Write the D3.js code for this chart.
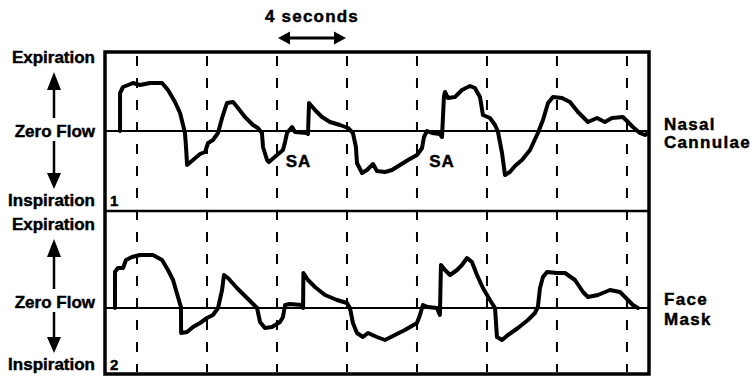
<!DOCTYPE html>
<html>
<head>
<meta charset="utf-8">
<script src="https://cdn.jsdelivr.net/npm/d3@7"></script>
<style>
  body { margin: 0; background: #fff; }
  text { font-family: "Liberation Sans", Arial, sans-serif; font-weight: bold; fill: #000; stroke: #000; stroke-width: 0.45px; }
</style>
</head>
<body>
<div id="wrapper"></div>
<script>
// Flow traces, [seconds, flow] (flow in arbitrary units, + = expiration)
const nasalFlow = [[-0.97,0],[-0.97,3.8],[-0.8,4.4],[-0.51,4.6],[-0.23,4.8],[0.17,4.6],[0.74,4.8],[1.43,4.8],[1.77,4.1],[2.17,2.9],[2.46,1.8],[2.63,0.6],[2.74,-0.2],[2.8,-1.6],[2.86,-3.4],[3.2,-2.9],[3.6,-2.3],[3.89,-2.1],[4.06,-1.2],[4.34,-0.9],[4.63,-0.2],[4.86,1.3],[5.14,2.8],[5.49,2.9],[5.77,2.3],[6.17,1.4],[6.63,0.6],[6.91,0.3],[7.14,-0.2],[7.2,-1.6],[7.43,-2.9],[7.54,-3.1],[8.0,-2.4],[8.34,-1.9],[8.46,-1.1],[8.57,-0.2],[8.86,0.4],[9.03,-0.1],[9.71,-0.2],[9.77,-0.3],[9.83,2.8],[10.17,2.1],[10.57,1.4],[11.03,0.9],[11.6,0.6],[12.06,0.3],[12.34,-0.2],[12.51,-1.6],[12.57,-3.2],[12.86,-4.2],[13.14,-3.9],[13.49,-3.3],[13.71,-4.0],[14.17,-4.1],[14.57,-3.9],[15.03,-3.4],[15.49,-2.9],[16.0,-2.4],[16.29,-1.7],[16.4,-0.6],[16.57,0],[16.86,-0.2],[17.31,-0.3],[17.43,-0.6],[17.54,3.4],[17.6,3.9],[17.77,3.3],[18.17,3.4],[18.57,4.1],[19.03,4.5],[19.31,4.3],[19.6,3.4],[19.77,1.6],[20.17,1.3],[20.46,0.6],[20.63,-0.1],[20.86,-2.2],[21.03,-4.4],[21.31,-4.1],[21.6,-3.5],[22.0,-2.9],[22.46,-1.9],[22.91,-0.2],[23.2,1.1],[23.49,2.8],[23.77,3.4],[24.29,3.3],[24.74,2.9],[25.2,1.9],[25.77,0.9],[26.29,1.3],[26.74,0.9],[27.14,1.3],[27.77,1.4],[28.06,0.9],[28.34,0.4],[28.74,-0.2],[29.03,-0.4],[29.2,-0.2]];

const maskFlow = [[-1.26,0],[-1.26,3.6],[-1.09,4.0],[-0.8,4.0],[-0.63,4.8],[-0.29,5.1],[0.17,5.3],[0.91,5.3],[1.43,4.8],[1.77,3.8],[2.06,2.8],[2.34,1.1],[2.51,0.1],[2.52,-2.5],[2.86,-2.4],[3.2,-1.9],[3.6,-1.5],[4.0,-1.0],[4.34,-0.7],[4.63,0],[4.86,1.8],[4.97,3.3],[5.2,3.0],[5.71,2.0],[6.29,1.0],[6.86,0],[7.03,-1.4],[7.31,-2.0],[7.71,-1.9],[8.17,-1.4],[8.34,-0.9],[8.46,0.3],[8.74,0.4],[9.43,0.3],[9.49,0],[9.51,3.5],[9.77,2.8],[10.17,2.1],[10.74,1.3],[11.43,0.8],[12.0,0.5],[12.17,0],[12.34,-1.5],[12.57,-2.5],[12.91,-2.9],[13.2,-2.5],[13.71,-2.9],[14.17,-3.2],[14.74,-2.7],[15.31,-2.2],[16.0,-1.5],[16.17,-0.7],[16.34,0.3],[16.63,0.1],[17.14,0],[17.31,-0.7],[17.37,4.3],[17.6,3.8],[17.89,3.3],[18.29,3.8],[18.57,4.3],[18.86,5.0],[19.14,4.6],[19.43,3.3],[19.77,2.0],[20.17,0.8],[20.46,0],[20.57,-2.9],[20.86,-3.2],[21.2,-2.7],[21.77,-2.0],[22.34,-1.2],[22.74,-0.5],[22.91,0.1],[23.03,2.0],[23.2,3.1],[23.43,3.6],[24.0,3.5],[24.46,3.5],[25.03,2.8],[25.49,1.6],[25.77,1.1],[26.34,1.3],[27.03,1.8],[27.6,1.6],[28.06,0.8],[28.34,0.3],[28.63,0]];

// Time gridlines every 4 seconds
const gridTimes = [0,4,8,12,16,20,24,28];
// Scale bar: 4 seconds between these times
const scaleBar = [8, 12];
// Sleep apnea marks [time, panel]
const saMarks = [[8.5, "nasal"], [16.7, "nasal"]];

const leftLabels = ["Expiration", "Zero Flow", "Inspiration"];
const panelNames = [["Nasal", "Cannulae"], ["Face", "Mask"]];
const panelNumbers = ["1", "2"];

const W = 755, H = 379;
const svg = d3.select("#wrapper").append("svg")
  .attr("width", W).attr("height", H);

// Box geometry
const boxL = 105, boxR = 649, boxT = 52, boxM = 211, boxB = 374;

const x = d3.scaleLinear().domain([-1.83, 29.26]).range([boxL, boxR]);
const yNasal = d3.scaleLinear().domain([-8, 7.9]).range([boxM, boxT]);
const yMask = d3.scaleLinear().domain([-6.6, 9.7]).range([boxB, boxM]);

// Dashed time lines through both panels
svg.append("g")
  .selectAll("line")
  .data(gridTimes)
  .enter()
  .append("line")
    .attr("x1", d => x(d)).attr("x2", d => x(d))
    .attr("y1", boxT + 4).attr("y2", boxB - 2)
    .attr("stroke", "#000")
    .attr("stroke-width", 2)
    .attr("stroke-dasharray", "10,12");

// Zero flow lines
[[yNasal, 0], [yMask, 0]].forEach(([y, v]) => {
  svg.append("line")
    .attr("x1", boxL).attr("x2", boxR)
    .attr("y1", y(v)).attr("y2", y(v))
    .attr("stroke", "#000").attr("stroke-width", 2);
});

// Divider between panels
svg.append("line")
  .attr("x1", boxL).attr("x2", boxR)
  .attr("y1", boxM).attr("y2", boxM)
  .attr("stroke", "#000").attr("stroke-width", 2.5);

// Outer box
svg.append("rect")
  .attr("x", boxL).attr("y", boxT)
  .attr("width", boxR - boxL).attr("height", boxB - boxT)
  .attr("fill", "none").attr("stroke", "#000").attr("stroke-width", 3.5);

// Flow traces
const drawTrace = (data, y) => {
  const line = d3.line().x(d => x(d[0])).y(d => y(d[1]));
  svg.append("path")
    .datum(data)
    .attr("d", line)
    .attr("fill", "none")
    .attr("stroke", "#000")
    .attr("stroke-width", 4)
    .attr("stroke-linejoin", "round")
    .attr("stroke-linecap", "round");
};
drawTrace(nasalFlow, yNasal);
drawTrace(maskFlow, yMask);

// Arrow: shaft from (x1,y1) to head tip at (x2,y2)
const drawArrow = (x1, y1, x2, y2, headLen, headHalf, shaftW) => {
  const len = Math.hypot(x2 - x1, y2 - y1);
  const ux = (x2 - x1) / len, uy = (y2 - y1) / len;
  const bx = x2 - ux * headLen, by = y2 - uy * headLen;
  svg.append("line")
    .attr("x1", x1).attr("y1", y1).attr("x2", bx).attr("y2", by)
    .attr("stroke", "#000").attr("stroke-width", shaftW);
  const p = d3.path();
  p.moveTo(x2, y2);
  p.lineTo(bx - uy * headHalf, by + ux * headHalf);
  p.lineTo(bx + uy * headHalf, by - ux * headHalf);
  p.closePath();
  svg.append("path").attr("d", p.toString()).attr("fill", "#000");
};

// 4 seconds scale bar
const sbMid = (x(scaleBar[0]) + x(scaleBar[1])) / 2;
drawArrow(sbMid, 38, x(scaleBar[0]) + 1, 38, 12, 6.5, 3);
drawArrow(sbMid, 38, x(scaleBar[1]) - 1, 38, 12, 6.5, 3);
svg.append("text")
  .attr("x", sbMid).attr("y", 22)
  .attr("text-anchor", "middle")
  .style("font-size", "17px")
  .style("letter-spacing", "1.2px")
  .text("4 seconds");

// Left labels and arrows for each panel
[[yNasal, 63, 137, 206], [yMask, 230, 308, 370]].forEach(([y, yExp, yZero, yInsp], i) => {
  const ys = [yExp, yZero, yInsp];
  svg.append("g")
    .selectAll("text")
    .data(leftLabels)
    .enter()
    .append("text")
      .attr("x", 95)
      .attr("y", (d, j) => ys[j])
      .attr("text-anchor", "end")
      .style("font-size", "17px")
      .text(d => d);

  // Up arrow to Expiration, down arrow to Inspiration
  drawArrow(54, yZero - 19, 54, yExp + 9, 18, 7, 2.5);
  drawArrow(54, yZero + 4, 54, yInsp - 17, 16, 7, 2.5);

  // Panel number
  svg.append("text")
    .attr("x", 110).attr("y", yInsp)
    .style("font-size", "15px")
    .text(panelNumbers[i]);

  // Right-side panel name
  svg.append("g")
    .selectAll("text")
    .data(panelNames[i])
    .enter()
    .append("text")
      .attr("x", 664)
      .attr("y", (d, j) => (i == 0 ? 130 : 305) + j * (i == 0 ? 18 : 20))
      .style("font-size", "17px")
      .style("letter-spacing", "1.3px")
      .text(d => d);
});

// SA labels
svg.append("g")
  .selectAll("text")
  .data(saMarks)
  .enter()
  .append("text")
    .attr("x", d => x(d[0]))
    .attr("y", 167)
    .style("font-size", "17px")
    .style("letter-spacing", "1px")
    .text("SA");
</script>
</body>
</html>
